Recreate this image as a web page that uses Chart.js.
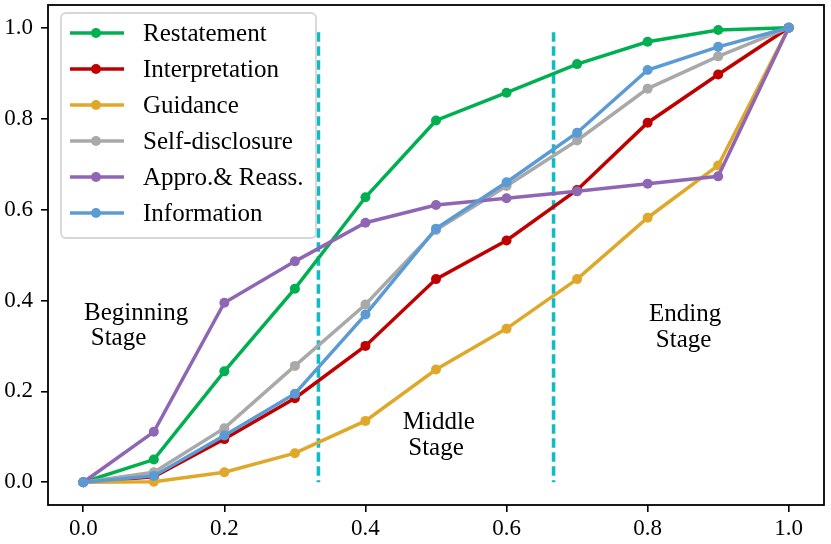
<!DOCTYPE html>
<html>
<head>
<meta charset="utf-8">
<script src="https://cdn.jsdelivr.net/npm/chart.js@4.4.1/dist/chart.umd.min.js"></script>
<style>
  html, body { margin: 0; padding: 0; background: #fff; }
  canvas { display: block; }
</style>
</head>
<body>
<canvas id="chart" width="831" height="544"></canvas>
<script>
// progress along the session (x) vs cumulative share of each strategy (y)
var progress = [0.0, 0.1, 0.2, 0.3, 0.4, 0.5, 0.6, 0.7, 0.8, 0.9, 1.0];
var restatement    = [0, 0.050, 0.244, 0.426, 0.627, 0.796, 0.857, 0.920, 0.969, 0.995, 1.0];
var interpretation = [0, 0.012, 0.095, 0.185, 0.300, 0.447, 0.532, 0.643, 0.791, 0.897, 1.0];
var guidance       = [0, 0.001, 0.022, 0.064, 0.135, 0.248, 0.338, 0.447, 0.582, 0.697, 1.0];
var selfDisclosure = [0, 0.022, 0.119, 0.256, 0.391, 0.555, 0.652, 0.752, 0.866, 0.937, 1.0];
var approReass     = [0, 0.111, 0.395, 0.486, 0.571, 0.610, 0.625, 0.640, 0.657, 0.673, 1.0];
var information    = [0, 0.014, 0.103, 0.195, 0.369, 0.558, 0.660, 0.769, 0.907, 0.958, 1.0];

var seriesNames = ["Restatement", "Interpretation", "Guidance", "Self-disclosure", "Appro.& Reass.", "Information"];
var seriesValues = [restatement, interpretation, guidance, selfDisclosure, approReass, information];
var seriesColors = ["#00b050", "#c00000", "#e0a82a", "#a9a9a9", "#8e66b4", "#5b9bd5"];

var stageBounds = [1 / 3, 2 / 3];
var stageTop = 0.99;
// each caption line: text, x centre, y of baseline (data units)
var stageLines = [
	["Beginning", 0.075, 0.357], ["Stage", 0.05, 0.302],
	["Middle", 0.504, 0.117], ["Stage", 0.5, 0.061],
	["Ending", 0.853, 0.354], ["Stage", 0.851, 0.298],
];

var xTicks = [0.0, 0.2, 0.4, 0.6, 0.8, 1.0];
var yTicks = [0.0, 0.2, 0.4, 0.6, 0.8, 1.0];

var serif = "'Liberation Serif', 'Times New Roman', serif";
Chart.defaults.font.family = serif;
Chart.defaults.font.size = 23;
Chart.defaults.color = "#000";

var datasets = [];
for (var i = 0; i < seriesNames.length; i++) {
	datasets.push({
		label: seriesNames[i],
		data: progress.map(function (x, j) { return { x: x, y: seriesValues[i][j] }; }),
		borderColor: seriesColors[i],
		backgroundColor: seriesColors[i],
		borderWidth: 3.5,
		pointRadius: 5,
		pointBorderWidth: 0,
		pointHoverRadius: 5,
		order: seriesNames.length - i,
		tension: 0,
	});
}
stageBounds.forEach(function (b) {
	datasets.push({
		label: "_stage",
		data: [{ x: b, y: stageTop }, { x: b, y: 0 }],
		borderColor: "#12bcc4",
		borderWidth: 3.6,
		borderDash: [9.5, 4.5],
		pointRadius: 0,
		order: 10,
	});
});

// black box round the plot area
var framePlugin = {
	id: "frame",
	afterDraw: function (chart) {
		var a = chart.chartArea, c = chart.ctx;
		c.save();
		c.strokeStyle = "#000";
		c.lineWidth = 1.8;
		c.strokeRect(a.left, a.top, a.right - a.left, a.bottom - a.top);
		c.restore();
	},
};

// stage captions
var stageTextPlugin = {
	id: "stageText",
	afterDatasetsDraw: function (chart) {
		var c = chart.ctx, xs = chart.scales.x, ys = chart.scales.y;
		c.save();
		c.font = "25px " + serif;
		c.fillStyle = "#000";
		c.textAlign = "center";
		c.textBaseline = "alphabetic";
		stageLines.forEach(function (l) {
			c.fillText(l[0], xs.getPixelForValue(l[1]), ys.getPixelForValue(l[2]));
		});
		c.restore();
	},
};

// legend box in the upper left corner
var legendPlugin = {
	id: "boxLegend",
	afterDraw: function (chart) {
		var c = chart.ctx;
		var bx = 61, by = 13, bw = 255, bh = 225;
		c.save();
		c.beginPath();
		c.roundRect(bx, by, bw, bh, 5);
		c.fillStyle = "rgba(255,255,255,0.85)";
		c.fill();
		c.strokeStyle = "#d6d6d6";
		c.lineWidth = 1.8;
		c.stroke();
		c.font = "25px " + serif;
		c.textBaseline = "middle";
		c.textAlign = "left";
		for (var i = 0; i < seriesNames.length; i++) {
			var y = 33 + i * 36;
			c.strokeStyle = seriesColors[i];
			c.lineWidth = 3.5;
			c.beginPath();
			c.moveTo(70, y);
			c.lineTo(124, y);
			c.stroke();
			c.fillStyle = seriesColors[i];
			c.beginPath();
			c.arc(96, y, 5, 0, Math.PI * 2);
			c.fill();
			c.fillStyle = "#000";
			c.fillText(seriesNames[i], 143, y + 1);
		}
		c.restore();
	},
};

function noPad(s) {
	s.paddingTop = 0;
	s.paddingBottom = 0;
	s.paddingLeft = 0;
	s.paddingRight = 0;
}

var canvas = document.getElementById("chart");
new Chart(canvas.getContext("2d"), {
	type: "line",
	data: { datasets: datasets },
	plugins: [framePlugin, stageTextPlugin, legendPlugin],
	options: {
		responsive: false,
		animation: false,
		devicePixelRatio: 1,
		layout: { padding: { top: 1, right: 7, bottom: 0, left: 0 } },
		plugins: { legend: { display: false }, tooltip: { enabled: false } },
		scales: {
			x: {
				type: "linear",
				min: -0.05,
				max: 1.05,
				afterBuildTicks: function (s) { s.ticks = xTicks.map(function (v) { return { value: v }; }); },
				afterFit: function (s) { s.height = 39; noPad(s); },
				ticks: { callback: function (v) { return v.toFixed(1); }, padding: 3, maxRotation: 0, autoSkip: false },
				grid: { drawOnChartArea: false, drawTicks: true, tickLength: 7, color: "#000", lineWidth: 1.6 },
				border: { display: false },
			},
			y: {
				type: "linear",
				min: -0.05,
				max: 1.05,
				afterBuildTicks: function (s) { s.ticks = yTicks.map(function (v) { return { value: v }; }); },
				afterFit: function (s) { s.width = 48; noPad(s); },
				ticks: { callback: function (v) { return v.toFixed(1); }, padding: 8, autoSkip: false },
				grid: { drawOnChartArea: false, drawTicks: true, tickLength: 7, color: "#000", lineWidth: 1.6 },
				border: { display: false },
			},
		},
	},
});
</script>
</body>
</html>
